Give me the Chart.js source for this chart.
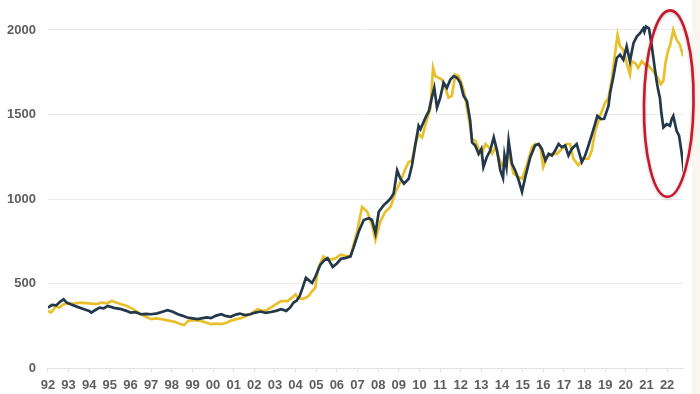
<!DOCTYPE html>
<html>
<head>
<meta charset="utf-8">
<script src="https://cdn.jsdelivr.net/npm/chart.js@4.4.0/dist/chart.umd.min.js"></script>
<style>
  html, body { margin: 0; padding: 0; }
  body { width: 700px; height: 394px; background: linear-gradient(to right, #ffffff 692px, #f8f6ef 692px); }
  #wrap { position: relative; width: 700px; height: 394px; }
</style>
</head>
<body>
<div id="wrap"><canvas id="grafico"></canvas></div>
<script>
const tickYears = [1992, 1993, 1994, 1995, 1996, 1997, 1998, 1999, 2000, 2001, 2002, 2003, 2004, 2005, 2006, 2007,
  2008, 2009, 2010, 2011, 2012, 2013, 2014, 2015, 2016, 2017, 2018, 2019, 2020, 2021, 2022]
const tickLabels = ['92', '93', '94', '95', '96', '97', '98', '99', '00', '01', '02', '03', '04', '05', '06', '07',
  '08', '09', '10', '11', '12', '13', '14', '15', '16', '17', '18', '19', '20', '21', '22']
const yTicks = [0, 500, 1000, 1500, 2000]

// gold (yellow line)
const goldYears = [1992.0, 1992.15, 1992.4, 1992.55, 1992.75, 1993.0, 1993.3, 1993.6, 1993.85, 1994.1, 1994.35, 1994.6,
  1994.85, 1995.1, 1995.3, 1995.55, 1995.8, 1996.0, 1996.25, 1996.5, 1996.75, 1997.0, 1997.25, 1997.5, 1997.9,
  1998.15, 1998.4, 1998.6, 1998.8, 1999.1, 1999.4, 1999.65, 1999.9, 2000.15, 2000.4, 2000.65, 2000.85, 2001.1,
  2001.35, 2001.6, 2001.8, 2002.15, 2002.4, 2002.6, 2002.8, 2003.05, 2003.3, 2003.6, 2003.8, 2004.0, 2004.1,
  2004.3, 2004.5, 2004.65, 2004.8, 2004.95, 2005.1, 2005.35, 2005.5, 2005.7, 2005.93, 2006.17, 2006.4, 2006.66,
  2006.98, 2007.22, 2007.47, 2007.7, 2007.87, 2008.1, 2008.35, 2008.6, 2008.84, 2009.08, 2009.32, 2009.48,
  2009.64, 2009.8, 2009.96, 2010.13, 2010.3, 2010.54, 2010.66, 2010.77, 2010.93, 2011.09, 2011.25, 2011.41,
  2011.57, 2011.74, 2011.9, 2012.06, 2012.22, 2012.38, 2012.55, 2012.71, 2012.87, 2013.03, 2013.2, 2013.36,
  2013.52, 2013.68, 2013.84, 2014.0, 2014.16, 2014.32, 2014.56, 2014.8, 2014.97, 2015.2, 2015.45, 2015.6,
  2015.85, 2016.0, 2016.17, 2016.42, 2016.66, 2016.9, 2017.14, 2017.3, 2017.46, 2017.7, 2017.95, 2018.19,
  2018.35, 2018.5, 2018.75, 2019.0, 2019.16, 2019.32, 2019.48, 2019.6, 2019.72, 2019.88, 2020.04, 2020.2,
  2020.28, 2020.45, 2020.6, 2020.77, 2020.93, 2021.1, 2021.3, 2021.5, 2021.7, 2021.82, 2021.92, 2022.05,
  2022.15, 2022.3, 2022.46, 2022.62, 2022.78]
const goldValues = [340, 330, 369, 359, 379, 383, 385, 389, 386, 383, 380, 389,
  385, 398, 390, 379, 370, 359, 340, 320, 305, 291, 295, 291, 281,
  275, 262, 256, 281, 285, 281, 271, 262, 265, 262, 270, 281, 290,
  297, 310, 320, 350, 340, 345, 359, 380, 398, 398, 415, 438, 418,
  410, 418, 430, 457, 476, 594, 662, 650, 643, 650, 672, 665, 662,
  809, 955, 926, 848, 760, 867, 926, 955, 1043, 1102, 1180, 1219,
  1229, 1326, 1385, 1365, 1443, 1541, 1776, 1727, 1717, 1707, 1658, 1600,
  1610, 1737, 1727, 1678, 1600, 1483, 1355, 1346, 1297, 1268, 1326, 1307,
  1268, 1307, 1248, 1200, 1209, 1277, 1151, 1131, 1121, 1200, 1307, 1326,
  1317, 1190, 1248, 1268, 1268, 1297, 1326, 1326, 1239, 1200, 1239, 1239,
  1287, 1394, 1492, 1570, 1600, 1707, 1863, 1971, 1903, 1883, 1805, 1737,
  1815, 1805, 1776, 1815, 1795, 1790, 1760, 1727, 1680, 1700, 1805, 1880,
  1912, 2000, 1942, 1912, 1844]

// dark (slate line)
const darkYears = [1992.0, 1992.2, 1992.4, 1992.6, 1992.76, 1992.9, 1993.1, 1993.4, 1993.75, 1994.0, 1994.1, 1994.3,
  1994.5, 1994.7, 1994.9, 1995.2, 1995.55, 1995.8, 1996.0, 1996.25, 1996.5, 1996.75, 1997.0, 1997.3, 1997.55,
  1997.8, 1998.05, 1998.3, 1998.5, 1998.75, 1999.0, 1999.25, 1999.5, 1999.7, 1999.9, 2000.15, 2000.4, 2000.6,
  2000.85, 2001.1, 2001.3, 2001.55, 2001.8, 2002.05, 2002.3, 2002.55, 2002.8, 2003.05, 2003.3, 2003.55,
  2003.75, 2003.9, 2004.05, 2004.2, 2004.35, 2004.5, 2004.65, 2004.8, 2004.95, 2005.2, 2005.4, 2005.55,
  2005.8, 2006.0, 2006.2, 2006.4, 2006.66, 2006.8, 2007.06, 2007.3, 2007.55, 2007.7, 2007.87, 2008.03,
  2008.27, 2008.45, 2008.6, 2008.75, 2008.92, 2009.08, 2009.25, 2009.48, 2009.64, 2009.8, 2009.96, 2010.05,
  2010.3, 2010.46, 2010.6, 2010.72, 2010.85, 2011.01, 2011.17, 2011.33, 2011.5, 2011.66, 2011.82, 2011.98,
  2012.14, 2012.3, 2012.46, 2012.55, 2012.7, 2012.87, 2013.0, 2013.1, 2013.26, 2013.43, 2013.6, 2013.76,
  2013.92, 2014.05, 2014.12, 2014.22, 2014.32, 2014.48, 2014.64, 2014.8, 2014.97, 2015.13, 2015.37, 2015.6,
  2015.77, 2015.93, 2016.1, 2016.26, 2016.42, 2016.58, 2016.74, 2016.9, 2017.06, 2017.22, 2017.38, 2017.62,
  2017.87, 2018.03, 2018.19, 2018.35, 2018.5, 2018.62, 2018.8, 2018.95, 2019.08, 2019.16, 2019.24, 2019.4,
  2019.56, 2019.72, 2019.88, 2020.04, 2020.2, 2020.37, 2020.53, 2020.69, 2020.85, 2020.9, 2020.98, 2021.12,
  2021.25, 2021.4, 2021.48, 2021.56, 2021.65, 2021.72, 2021.82, 2021.98, 2022.14, 2022.22, 2022.3, 2022.46,
  2022.58, 2022.7, 2022.82]
const darkValues = [359, 375, 372, 395, 408, 390, 379, 365, 350, 340, 330, 345,
  359, 355, 369, 358, 350, 340, 330, 332, 320, 322, 320, 325, 335,
  344, 335, 320, 312, 301, 296, 291, 297, 301, 297, 312, 320, 310,
  305, 318, 324, 315, 320, 330, 336, 328, 333, 340, 350, 340,
  362, 389, 400, 428, 480, 535, 520, 505, 540, 613, 640, 652,
  600, 620, 648, 652, 662, 711, 809, 877, 887, 877, 799, 926,
  965, 985, 1004, 1033, 1170, 1121, 1092, 1121, 1200, 1320, 1434, 1414,
  1483, 1522, 1600, 1658, 1541, 1600, 1688, 1658, 1707, 1727, 1717, 1688,
  1610, 1580, 1463, 1336, 1317, 1268, 1297, 1190, 1248, 1287, 1365, 1287,
  1170, 1125, 1258, 1190, 1346, 1210, 1170, 1115, 1043, 1131, 1248, 1317,
  1326, 1297, 1229, 1268, 1258, 1287, 1326, 1307, 1317, 1258, 1297, 1326,
  1219, 1258, 1317, 1380, 1440, 1492, 1473, 1475, 1522, 1551, 1629, 1727,
  1834, 1854, 1824, 1903, 1815, 1922, 1961, 1981, 2010, 1990, 2020, 2010,
  1912, 1776, 1707, 1649, 1600, 1512, 1424, 1443, 1434, 1473, 1492, 1404,
  1375, 1277, 1160]

// red ring round the last stretch, in data units
const ringCenter = { x: 2022.08, y: 1565 }
const ringRadius = { x: 1.2, y: 551 }

const toPoints = (xs, ys) => xs.map((x, i) => ({ x: x, y: ys[i] }))

const ringPlugin = {
  id: 'ring',
  afterDatasetsDraw(chart) {
    const c = chart.ctx
    const sx = chart.scales.x
    const sy = chart.scales.y
    const cx = sx.getPixelForValue(ringCenter.x)
    const cy = sy.getPixelForValue(ringCenter.y)
    const rx = Math.abs(sx.getPixelForValue(ringCenter.x + ringRadius.x) - cx)
    const ry = Math.abs(sy.getPixelForValue(ringCenter.y + ringRadius.y) - cy)
    c.save()
    c.beginPath()
    c.ellipse(cx, cy, rx, ry, 0.015, 0, Math.PI * 2)
    c.strokeStyle = '#c8182a'
    c.lineWidth = 2.6
    c.shadowColor = 'rgba(0,0,0,0.25)'
    c.shadowBlur = 3
    c.shadowOffsetY = 1
    c.stroke()
    c.restore()
  }
}

const ctx = document.getElementById('grafico').getContext('2d')
new Chart(ctx, {
  type: 'line',
  data: {
    datasets: [{
      label: 'dark',
      data: toPoints(darkYears, darkValues),
      borderColor: '#23384a',
      borderWidth: 2.7,
      pointRadius: 0,
      tension: 0,
      fill: false
    }, {
      label: 'gold',
      data: toPoints(goldYears, goldValues),
      borderColor: '#e8c02c',
      borderWidth: 2.7,
      pointRadius: 0,
      tension: 0,
      fill: false
    }]
  },
  options: {
    responsive: true,
    maintainAspectRatio: false,
    animation: false,
    layout: { padding: { left: -5, right: 17, top: 16, bottom: -4 } },
    plugins: {
      legend: { display: false },
      tooltip: { enabled: false }
    },
    scales: {
      x: {
        type: 'linear',
        min: 1992,
        max: 2022.77,
        afterBuildTicks: scale => { scale.ticks = tickYears.map(v => ({ value: v })) },
        ticks: {
          autoSkip: false,
          maxRotation: 0,
          padding: 5,
          color: '#5e5e5e',
          font: { family: 'Liberation Sans', size: 13, weight: 'bold' },
          callback: (value, index) => tickLabels[index]
        },
        grid: { drawOnChartArea: false, drawTicks: true, tickLength: 4, color: '#e2e2e2' },
        border: { display: true, color: '#e2e2e2' }
      },
      y: {
        min: 0,
        max: 2060,
        afterBuildTicks: scale => { scale.ticks = yTicks.map(v => ({ value: v })) },
        ticks: {
          padding: 12,
          color: '#5e5e5e',
          font: { family: 'Liberation Sans', size: 13, weight: 'bold' },
          callback: value => String(value)
        },
        grid: { drawTicks: false, color: '#ebebeb' },
        border: { display: false }
      }
    }
  },
  plugins: [ringPlugin]
})
</script>
</body>
</html>
